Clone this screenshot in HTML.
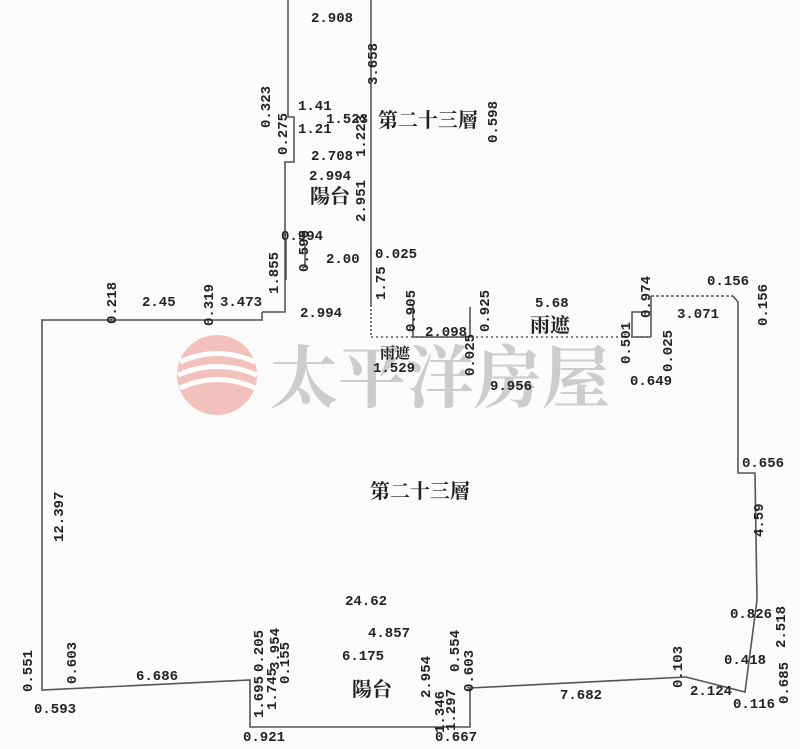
<!DOCTYPE html>
<html><head><meta charset="utf-8"><style>
html,body{margin:0;padding:0;background:#fbfbfb;}
svg{display:block}
text{font-family:"Liberation Mono","Noto Serif CJK SC",monospace;font-size:14px;fill:#222;font-weight:bold}
.c{font-family:"Liberation Serif","Noto Serif CJK SC","Noto Sans CJK SC",serif;font-size:20px}
.w{font-family:"Noto Serif CJK SC","Noto Sans CJK SC",serif;font-size:68px;fill:#c4c4c4;font-weight:bold}
</style></head><body>
<svg width="800" height="749" viewBox="0 0 800 749" xmlns="http://www.w3.org/2000/svg">
<rect width="800" height="749" fill="#fbfbfb"/>
<g opacity="0.85">
<circle cx="217" cy="375" r="40" fill="#f2b8b0"/>
<path d="M180 362 Q217 345 255 362 M178 375 Q217 358 257 375 M180 388 Q217 371 255 388" stroke="#fff" stroke-width="5" fill="none"/>
<text x="270" y="402" class="w">太平洋房屋</text>
</g>
<g stroke="#555" stroke-width="1.6" fill="none">
<polyline points="288,0 288,117 294,117 294,162 285,162 285,312 262,312"/>
<line x1="371" y1="0" x2="371" y2="305"/>
<line x1="371" y1="305" x2="371" y2="337" stroke-dasharray="2,2"/>
<polyline points="262,312 262,320 42,320 42,690 250,680 250,727 470,727 470,688 686,677 745,692 757,600 755,473 738,473 738,302 733,296"/>
<line x1="651" y1="296" x2="733" y2="296" stroke-dasharray="3,2"/>
<line x1="371" y1="337" x2="651" y2="337" stroke-dasharray="2,3"/>
<polyline points="413,305 413,337 470,337 470,307"/>
<polyline points="651,337 651,296"/>
<polyline points="651,312 632,312 632,337 651,337"/>
<line x1="286" y1="240" x2="286" y2="280"/>
<line x1="305" y1="244" x2="305" y2="268"/>
</g>
<text x="311" y="22">2.908</text>
<text transform="translate(377,85) rotate(-90)">3.658</text>
<text transform="translate(270,128) rotate(-90)">0.323</text>
<text x="298" y="110">1.41</text>
<text x="298" y="133">1.21</text>
<text x="326" y="123">1.523</text>
<text transform="translate(287,155) rotate(-90)">0.275</text>
<text transform="translate(365,157) rotate(-90)">1.223</text>
<text x="378" y="127" class="c">第二十三層</text>
<text transform="translate(497,143) rotate(-90)">0.598</text>
<text x="311" y="160">2.708</text>
<text x="309" y="180">2.994</text>
<text x="310" y="203" class="c">陽台</text>
<text transform="translate(365,222) rotate(-90)">2.951</text>
<text x="281" y="240">0.994</text>
<text transform="translate(308,272) rotate(-90)">0.595</text>
<text x="326" y="263">2.00</text>
<text x="375" y="258">0.025</text>
<text transform="translate(385,300) rotate(-90)">1.75</text>
<text transform="translate(278,294) rotate(-90)">1.855</text>
<text x="300" y="317">2.994</text>
<text transform="translate(116,324) rotate(-90)">0.218</text>
<text x="142" y="306">2.45</text>
<text transform="translate(213,326) rotate(-90)">0.319</text>
<text x="220" y="306">3.473</text>
<text transform="translate(415,332) rotate(-90)">0.905</text>
<text x="425" y="336">2.098</text>
<text transform="translate(489,332) rotate(-90)">0.925</text>
<text x="535" y="307">5.68</text>
<text x="530" y="332" class="c">雨遮</text>
<text x="380" y="358" class="c" style="font-size:15px">雨遮</text>
<text x="373" y="372">1.529</text>
<text transform="translate(474,376) rotate(-90)">0.025</text>
<text x="490" y="390">9.956</text>
<text transform="translate(630,364) rotate(-90)">0.501</text>
<text transform="translate(650,318) rotate(-90)">0.974</text>
<text transform="translate(672,372) rotate(-90)">0.025</text>
<text x="677" y="318">3.071</text>
<text x="707" y="285">0.156</text>
<text transform="translate(767,326) rotate(-90)">0.156</text>
<text x="630" y="385">0.649</text>
<text x="742" y="467">0.656</text>
<text transform="translate(763,537) rotate(-90)">4.59</text>
<text x="370" y="498" class="c">第二十三層</text>
<text transform="translate(63,542) rotate(-90)">12.397</text>
<text x="345" y="605">24.62</text>
<text x="368" y="637">4.857</text>
<text x="342" y="660">6.175</text>
<text x="352" y="696" class="c">陽台</text>
<text transform="translate(32,692) rotate(-90)">0.551</text>
<text transform="translate(76,684) rotate(-90)">0.603</text>
<text x="34" y="713">0.593</text>
<text x="136" y="680">6.686</text>
<text transform="translate(263,672) rotate(-90)">0.205</text>
<text transform="translate(263,718) rotate(-90)">1.695</text>
<text transform="translate(276,710) rotate(-90)">1.745</text>
<text transform="translate(279,670) rotate(-90)">3.954</text>
<text transform="translate(289,684) rotate(-90)">0.155</text>
<text x="243" y="741">0.921</text>
<text transform="translate(430,698) rotate(-90)">2.954</text>
<text transform="translate(444,733) rotate(-90)">1.346</text>
<text transform="translate(455,731) rotate(-90)">1.297</text>
<text transform="translate(459,672) rotate(-90)">0.554</text>
<text transform="translate(473,692) rotate(-90)">0.603</text>
<text x="435" y="741">0.667</text>
<text x="560" y="699">7.682</text>
<text transform="translate(682,688) rotate(-90)">0.103</text>
<text x="690" y="695">2.124</text>
<text x="733" y="708">0.116</text>
<text x="730" y="618">0.826</text>
<text transform="translate(785,648) rotate(-90)">2.518</text>
<text x="724" y="664">0.418</text>
<text transform="translate(788,704) rotate(-90)">0.685</text>
</svg>
</body></html>
